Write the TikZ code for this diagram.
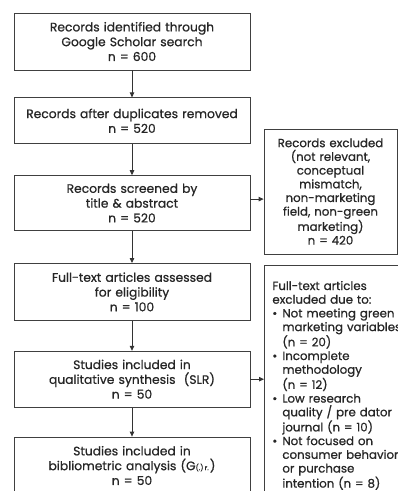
\documentclass[tikz,border=0pt]{standalone}
\usepackage{fontspec}
\setmainfont{Poppins}[RawFeature={embolden=0.8}]
\usetikzlibrary{arrows.meta,positioning,calc}

\newcommand{\bul}{\makebox[10pt][l]{\textbullet}}
\newcommand{\ind}{\hspace*{10pt}}

\begin{document}
\begin{tikzpicture}[x=1pt, y=1pt, >={Triangle[length=5pt,width=4.5pt]},
  text=black!85]
\tikzstyle{stage}=[draw=black!75, line width=0.8pt, minimum width=236pt,
                   text width=232pt, align=center, inner sep=2pt,
                   font=\fontsize{12.3}{14.8}\selectfont]
\tikzstyle{excl}=[draw=black!75, line width=0.8pt, inner sep=2pt,
                  font=\fontsize{11.8}{13.7}\selectfont]
\tikzstyle{flow}=[->, draw=black!80, line width=0.8pt]

\useasboundingbox (0,0) rectangle (398,-491);
\clip (0,0) rectangle (398,-491);

\node[stage, minimum height=57pt] (ident) at (132,-41.5)
  {Records identified through\\Google Scholar search\\n = 600};
\node[stage, minimum height=46pt, below=27pt of ident] (dedup)
  {Records after duplicates removed\\n = 520};
\node[stage, minimum height=55pt, below=31pt of dedup] (screen)
  {Records screened by\\title \& abstract\\n = 520};
\node[stage, minimum height=57pt, below=32pt of screen] (elig)
  {Full-text articles assessed\\for eligibility\\n = 100};
\node[stage, minimum height=56pt, below=30pt of elig] (slr)
  {Studies included in\\qualitative synthesis\ \ (SLR)\\n = 50};
\node[stage, minimum height=57pt, below=29pt of slr] (biblio)
  {Studies included in\\bibliometric analysis (G{\scriptsize(.)\,r.\,})\\n = 50};

\node[excl, minimum width=133pt, minimum height=125pt, text width=129pt,
      align=center] (drop) at (330.5,-191.5)
  {Records excluded\\(not relevant,\\conceptual\\mismatch,\\non-marketing\\
   field, non-green\\marketing)\\n = 420};
\node[excl, anchor=north west, minimum width=160pt, minimum height=240pt,
      text width=148pt, align=left, inner xsep=8pt, inner ysep=6pt] (reject)
  at (264,-265)
  {Full-text articles\\excluded due to:\\
   \bul Not meeting green\\\ind marketing variables\\\ind (n = 20)\\
   \bul Incomplete\\\ind methodology\\\ind (n = 12)\\
   \bul Low research\\\ind quality / pre dator\\\ind journal (n = 10)\\
   \bul Not focused on\\\ind consumer behavior\\\ind or purchase\\
   \ind intention (n = 8)};

\draw[flow] (ident) -- (dedup);
\draw[flow] (dedup) -- (screen);
\draw[flow] (screen) -- (elig);
\draw[flow] (elig) -- (slr);
\draw[flow] (slr) -- (biblio);
\draw[flow] ([yshift=4pt]screen.east) -- ([yshift=4pt]screen.east -| drop.west);
\draw[flow] (slr.east) -- (slr.east -| reject.west);

\end{tikzpicture}
\end{document}
